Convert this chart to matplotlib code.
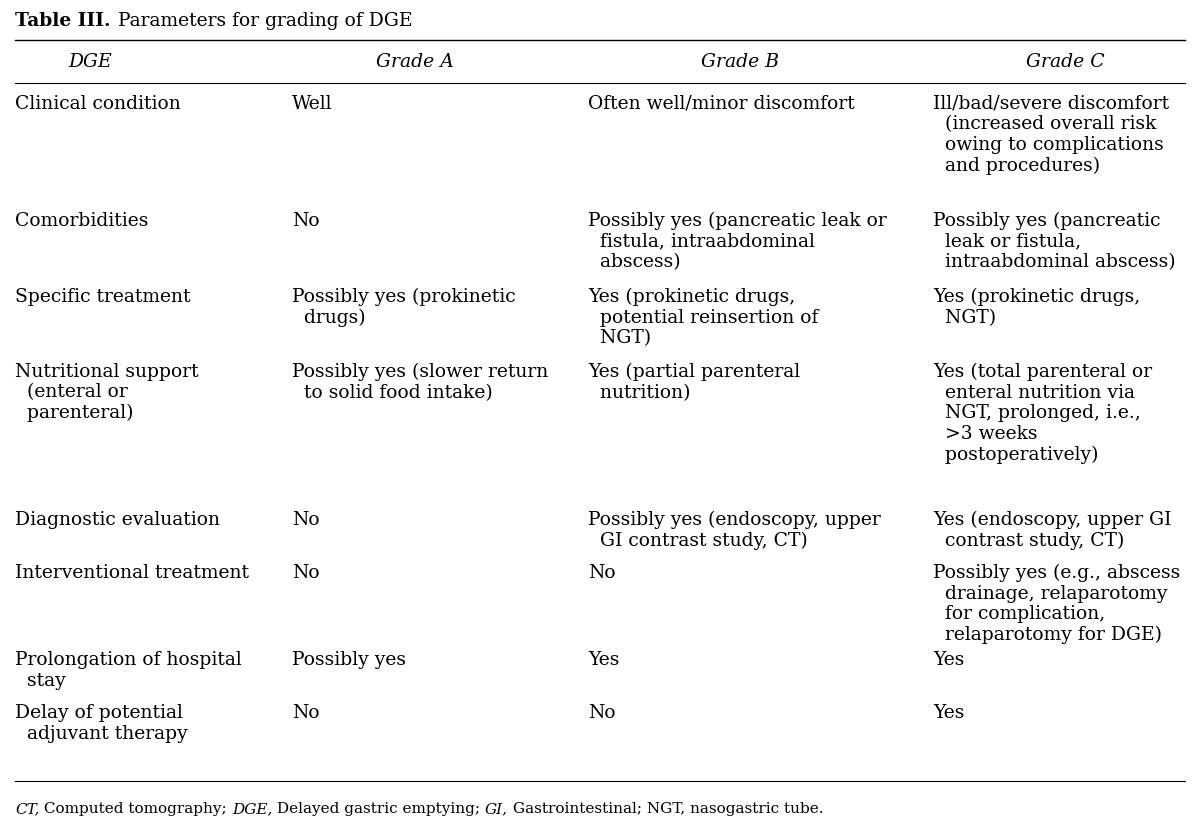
import matplotlib
matplotlib.use("Agg")
import matplotlib.pyplot as plt

headers = ["DGE", "Grade A", "Grade B", "Grade C"]
row_labels = ["Clinical condition", "Comorbidities", "Specific treatment",
              "Nutritional support\n  (enteral or\n  parenteral)", "Diagnostic evaluation",
              "Interventional treatment", "Prolongation of hospital\n  stay",
              "Delay of potential\n  adjuvant therapy"]
grade_a = ["Well", "No", "Possibly yes (prokinetic\n  drugs)",
           "Possibly yes (slower return\n  to solid food intake)", "No", "No",
           "Possibly yes", "No"]
grade_b = ["Often well/minor discomfort",
           "Possibly yes (pancreatic leak or\n  fistula, intraabdominal\n  abscess)",
           "Yes (prokinetic drugs,\n  potential reinsertion of\n  NGT)",
           "Yes (partial parenteral\n  nutrition)",
           "Possibly yes (endoscopy, upper\n  GI contrast study, CT)", "No", "Yes", "No"]
grade_c = ["Ill/bad/severe discomfort\n  (increased overall risk\n  owing to complications\n  and procedures)",
           "Possibly yes (pancreatic\n  leak or fistula,\n  intraabdominal abscess)",
           "Yes (prokinetic drugs,\n  NGT)",
           "Yes (total parenteral or\n  enteral nutrition via\n  NGT, prolonged, i.e.,\n  >3 weeks\n  postoperatively)",
           "Yes (endoscopy, upper GI\n  contrast study, CT)",
           "Possibly yes (e.g., abscess\n  drainage, relaparotomy\n  for complication,\n  relaparotomy for DGE)",
           "Yes", "Yes"]
footnote = [("CT,", True), (" Computed tomography; ", False), ("DGE,", True),
            (" Delayed gastric emptying; ", False), ("GI,", True),
            (" Gastrointestinal; NGT, nasogastric tube.", False)]

W, H = 1200, 827
fig = plt.figure(figsize=(12, 8.27), dpi=100)
FONT = "DejaVu Serif"
FS = 13.5
LS = 1.18

def fx(x): return x / W
def fy(y): return 1 - y / H

fig.canvas.draw()
r = fig.canvas.get_renderer()
t = fig.text(fx(15), fy(26), "Table III.", fontfamily=FONT, fontsize=13.5, fontweight="bold", va="baseline")
bx = t.get_window_extent(r).x1
fig.text(bx / W + 8 / W, fy(26), "Parameters for grading of DGE", fontfamily=FONT, fontsize=13.5, va="baseline")

for y, lw in [(40, 1.0), (83, 0.8), (781, 0.8)]:
    fig.add_artist(plt.Line2D([fx(15), fx(1185)], [fy(y), fy(y)], color="black", lw=lw))

hx = [90, 415, 740, 1065]
for h, x in zip(headers, hx):
    fig.text(fx(x), fy(62), h, fontfamily=FONT, fontsize=FS, style="italic", ha="center", va="center")

col_x = [15, 292, 588, 933]
row_tops = [95, 212, 288, 363, 511, 564, 651, 704]
for i, top in enumerate(row_tops):
    for cx, col in zip(col_x, [row_labels, grade_a, grade_b, grade_c]):
        fig.text(fx(cx), fy(top), col[i], fontfamily=FONT, fontsize=FS, va="top",
                 ha="left", linespacing=LS)

x = 15
for s, it in footnote:
    t = fig.text(fx(x), fy(813), s, fontfamily=FONT, fontsize=11,
                 style="italic" if it else "normal", va="baseline")
    x += t.get_window_extent(r).width

fig.savefig("out.png", dpi=100, facecolor="white")
